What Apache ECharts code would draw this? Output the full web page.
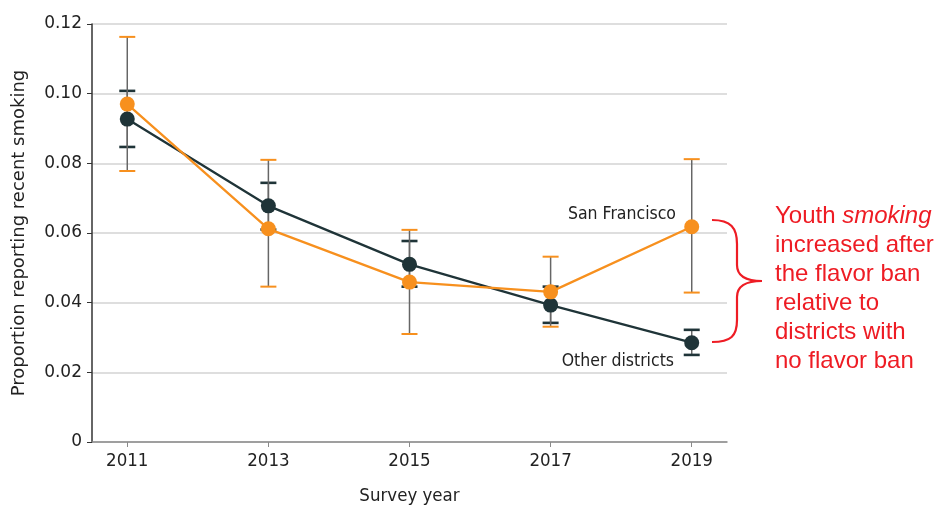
<!DOCTYPE html>
<html>
<head>
<meta charset="utf-8">
<script src="https://cdn.jsdelivr.net/npm/echarts@6/dist/echarts.min.js"></script>
<style>
  html, body { margin: 0; padding: 0; background: #fff; }
</style>
</head>
<body>
<div style="width:938px;height:506px;" id="chart"></div>
<script>
// survey years
var years = [2011, 2013, 2015, 2017, 2019];

// San Francisco (orange)
var sfValues = [0.0970, 0.0612, 0.0459, 0.0431, 0.0618];
var sfLower  = [0.0778, 0.0446, 0.0310, 0.0331, 0.0429];
var sfUpper  = [0.1163, 0.0810, 0.0609, 0.0532, 0.0812];

// Other districts (dark)
var otherValues = [0.0927, 0.0678, 0.0510, 0.0393, 0.0285];
var otherLower  = [0.0847, 0.0610, 0.0446, 0.0342, 0.0250];
var otherUpper  = [0.1008, 0.0744, 0.0577, 0.0446, 0.0322];

var ORANGE = '#f7901e';
var DARK = '#1f3438';
var RED = '#ee1c24';
var NARROW = "'DejaVu Sans Condensed', sans-serif";
var SANS = "'DejaVu Sans', sans-serif";

function pairs(vals) {
  return years.map(function (y, i) { return [y, vals[i]]; });
}
function bars(lo, hi) {
  return years.map(function (y, i) { return [y, lo[i], hi[i]]; });
}

// whisker + caps drawn through the axis scales
function errorBar(capColor, capWidth) {
  return function (params, api) {
    var x = api.value(0);
    var top = api.coord([x, api.value(2)]);
    var bot = api.coord([x, api.value(1)]);
    var w = 8;
    return {
      type: 'group',
      children: [
        {type: 'line', shape: {x1: top[0], y1: top[1], x2: bot[0], y2: bot[1]},
          style: {stroke: '#666', lineWidth: 1.5}},
        {type: 'line', shape: {x1: top[0] - w, y1: top[1], x2: top[0] + w, y2: top[1]},
          style: {stroke: capColor, lineWidth: capWidth}},
        {type: 'line', shape: {x1: bot[0] - w, y1: bot[1], x2: bot[0] + w, y2: bot[1]},
          style: {stroke: capColor, lineWidth: capWidth}}
      ]
    };
  };
}

var braceStyle = {stroke: RED, lineWidth: 2.2, fill: null};

var myChart = echarts.init(document.getElementById('chart'));

var option = {
  animation: false,
  backgroundColor: '#fff',
  grid: {left: 92, right: 211, top: 24, bottom: 64, containLabel: false, outerBoundsMode: 'none'},
  xAxis: {
    type: 'value',
    min: 2010.5,
    max: 2019.5,
    name: 'Survey year',
    nameLocation: 'middle',
    nameGap: 45,
    nameTextStyle: {fontFamily: NARROW, fontSize: 18.5, color: '#222'},
    axisLine: {lineStyle: {color: '#8a8a8a', width: 1.5}},
    axisTick: {show: true, customValues: years, length: 5, lineStyle: {color: '#8a8a8a'}},
    axisLabel: {customValues: years, fontFamily: NARROW, fontSize: 18.5, color: '#222', margin: 10,
      formatter: function (v) { return String(v); }},
    splitLine: {show: false}
  },
  yAxis: {
    type: 'value',
    min: 0,
    max: 0.12,
    interval: 0.02,
    name: 'Proportion reporting recent smoking',
    nameLocation: 'middle',
    nameGap: 64,
    nameTextStyle: {fontFamily: SANS, fontSize: 18, color: '#222'},
    axisLine: {show: true, lineStyle: {color: '#333', width: 1.5}},
    axisTick: {show: true, length: 5, lineStyle: {color: '#333'}},
    axisLabel: {fontFamily: SANS, fontSize: 17, color: '#222', margin: 10,
      formatter: function (v) { return v === 0 ? '0' : v.toFixed(2); }},
    splitLine: {show: true, lineStyle: {color: '#dedede', width: 1.8}}
  },
  series: [
    {
      type: 'custom',
      name: 'Other CI',
      renderItem: errorBar(DARK, 2.6),
      encode: {x: 0, y: [1, 2]},
      data: bars(otherLower, otherUpper),
      z: 1
    },
    {
      type: 'custom',
      name: 'SF CI',
      renderItem: errorBar(ORANGE, 2),
      encode: {x: 0, y: [1, 2]},
      data: bars(sfLower, sfUpper),
      z: 1
    },
    {
      type: 'line',
      name: 'Other districts',
      data: pairs(otherValues),
      symbol: 'circle',
      symbolSize: 15,
      lineStyle: {color: DARK, width: 2.3},
      itemStyle: {color: DARK},
      z: 3
    },
    {
      type: 'line',
      name: 'San Francisco',
      data: pairs(sfValues),
      symbol: 'circle',
      symbolSize: 15,
      lineStyle: {color: ORANGE, width: 2.3},
      itemStyle: {color: ORANGE},
      z: 4
    }
  ],
  graphic: [
    {type: 'text', x: 676, y: 214,
      style: {text: 'San Francisco', font: '17.5px ' + NARROW, fill: '#222', align: 'right', verticalAlign: 'middle'}},
    {type: 'text', x: 674, y: 361,
      style: {text: 'Other districts', font: '17.5px ' + NARROW, fill: '#222', align: 'right', verticalAlign: 'middle'}},
    // curly brace
    {type: 'bezierCurve', shape: {x1: 712, y1: 220, cpx1: 731, cpy1: 220, cpx2: 737, cpy2: 228, x2: 737, y2: 244}, style: braceStyle},
    {type: 'line', shape: {x1: 737, y1: 244, x2: 737, y2: 265}, style: braceStyle},
    {type: 'bezierCurve', shape: {x1: 737, y1: 265, cpx1: 737, cpy1: 277, cpx2: 747, cpy2: 281, x2: 762, y2: 281}, style: braceStyle},
    {type: 'bezierCurve', shape: {x1: 762, y1: 281, cpx1: 747, cpy1: 281, cpx2: 737, cpy2: 285, x2: 737, y2: 297}, style: braceStyle},
    {type: 'line', shape: {x1: 737, y1: 297, x2: 737, y2: 320}, style: braceStyle},
    {type: 'bezierCurve', shape: {x1: 737, y1: 320, cpx1: 737, cpy1: 336, cpx2: 731, cpy2: 342, x2: 712, y2: 342}, style: braceStyle},
    {type: 'text', x: 775, y: 202,
      style: {
        text: 'Youth {i|smoking}\nincreased after\nthe flavor ban\nrelative to\ndistricts with\nno flavor ban',
        font: '24px "Liberation Sans", Arial, sans-serif',
        fill: RED,
        lineHeight: 29,
        rich: {i: {fontStyle: 'italic', fontSize: 24, fontFamily: '"Liberation Sans", Arial, sans-serif', fill: RED, lineHeight: 29}}
      }}
  ]
};

option && myChart.setOption(option);
</script>
</body>
</html>
